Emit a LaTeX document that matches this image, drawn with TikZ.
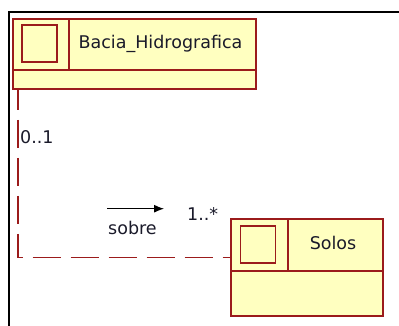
\documentclass[tikz,border=0pt]{standalone}
\usepackage{fontspec}
\setmainfont{DejaVu Sans}
\usetikzlibrary{calc,arrows.meta}
\definecolor{umlred}{HTML}{9B1B1B}
\definecolor{umlfill}{HTML}{FFFFC0}
\definecolor{txt}{HTML}{1A1A2A}
\tikzset{
  classbox/.style={draw=umlred,fill=umlfill,line width=1.6pt,rectangle,inner sep=0pt},
  iconbox/.style={draw=umlred,line width=1.6pt,rectangle,inner sep=0pt,minimum width=35pt,minimum height=37pt},
  divline/.style={draw=umlred,line width=1.6pt},
  lbl/.style={font=\fontsize{17.5}{20}\selectfont,text=txt,inner sep=0pt,anchor=base},
  assoc/.style={draw=umlred,line width=1.6pt,dash pattern=on 28pt off 10pt,dash phase=8pt},
}
\begin{document}
\begin{tikzpicture}[x=1pt,y=-1pt]
\useasboundingbox (0,0) rectangle (399,326);
\draw[line width=2pt] (399,12) -- (9,12) -- (9,327);
% Bacia_Hidrografica
\node[classbox,minimum width=243pt,minimum height=70pt] (bacia) at (134.5,54) {};
\draw[divline] (13,70) -- (256,70);
\draw[divline] (69,19) -- (69,70);
\node[iconbox] (baciaicon) at (39.5,43.5) {};
\node[lbl] (bacianame) at (160.5,49) {Bacia\_Hidrografica};
% Solos
\node[classbox,minimum width=152pt,minimum height=97pt] (solos) at (307,267.5) {};
\draw[divline] (231,271) -- (383,271);
\draw[divline] (288,219) -- (288,271);
\node[iconbox] (solosicon) at (258,244.5) {};
\node[lbl] (solosname) at (333,249) {Solos};
% association
\draw[assoc] ($(bacia.south west)+(6,0)$) |- ($(solos.west)+(0,-10)$);
\node[lbl,anchor=base west] (m1) at (20,143) {0..1};
\node[lbl,anchor=base west] (m2) at (187,220) {1..*};
\node[lbl,anchor=base west] (role) at (108,234) {sobre};
\coordinate (arrs) at (107,208.7);
\coordinate (arre) at (164,208.7);
\draw[line width=1pt,-{Latex[length=10pt,width=8pt]}] (arrs) -- (arre);
\end{tikzpicture}
\end{document}
